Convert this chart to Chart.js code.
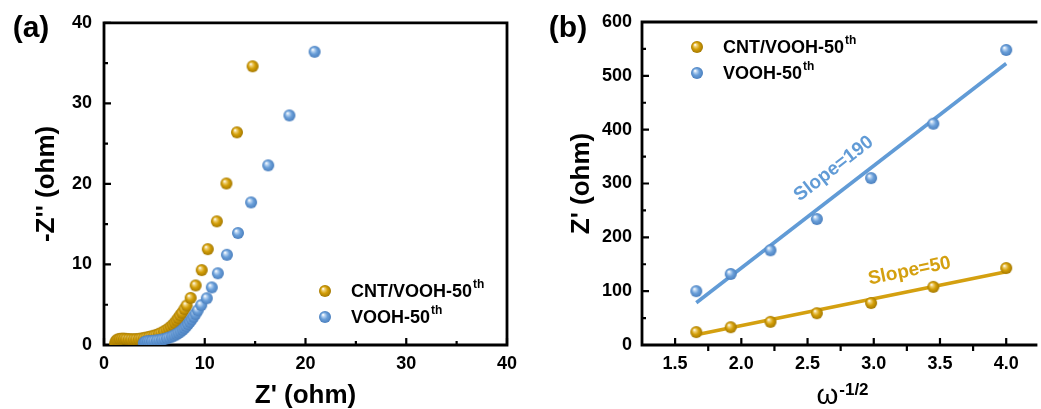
<!DOCTYPE html>
<html>
<head>
<meta charset="utf-8">
<script src="https://cdn.jsdelivr.net/npm/chart.js@4.4.1/dist/chart.umd.min.js"></script>
<style>
  html, body { margin: 0; padding: 0; background: #fff; }
  #wrap { position: relative; width: 1041px; height: 409px; overflow: hidden; }
  .panel { position: absolute; top: 0; }
  #panelA { left: 0; }
  #panelB { left: 540px; }
</style>
</head>
<body>
<div id="wrap">
  <div class="panel" id="panelA"><canvas id="nyquist" width="540" height="409"></canvas></div>
  <div class="panel" id="panelB"><canvas id="warburg" width="501" height="409"></canvas></div>
</div>
<script>
const FONT = '"Liberation Sans", Arial, sans-serif';
const GOLD = '#d49f08';
const BLUE = '#6a9fd9';
const GOLD_LINE = '#d4a010';
const BLUE_LINE = '#619bd6';

const seriesNames = ['CNT/VOOH-50', 'VOOH-50'];

// (a) Nyquist plot, Z' / -Z'' in ohm
const cntRe = [1.10, 1.15, 1.22, 1.32, 1.45, 1.60, 1.78, 1.98, 2.20, 2.45, 2.70, 2.95, 3.20, 3.45, 3.70,
  3.95, 4.20, 4.45, 4.70, 4.95, 5.20, 5.45, 5.70, 5.95, 6.20, 6.42, 6.63, 6.83, 7.02, 7.20, 7.37, 7.55,
  7.75, 7.98, 8.20, 8.60, 9.10, 9.70, 10.30, 11.20, 12.15, 13.20, 14.75];
const cntIm = [0.15, 0.35, 0.52, 0.64, 0.72, 0.76, 0.78, 0.78, 0.76, 0.74, 0.72, 0.72, 0.73, 0.76, 0.80,
  0.86, 0.93, 1.00, 1.07, 1.15, 1.25, 1.38, 1.52, 1.68, 1.86, 2.05, 2.26, 2.50, 2.76, 3.04, 3.34, 3.68,
  4.00, 4.45, 4.90, 5.85, 7.40, 9.30, 11.90, 15.35, 20.05, 26.40, 34.60];
const voohRe = [3.95, 4.00, 4.08, 4.20, 4.36, 4.55, 4.76, 5.00, 5.25, 5.50, 5.75, 6.00, 6.25, 6.50, 6.75,
  6.98, 7.20, 7.40, 7.60, 7.80, 7.98, 8.16, 8.34, 8.52, 8.70, 8.88, 9.08, 9.30, 9.65, 10.20, 10.70,
  11.30, 12.20, 13.30, 14.60, 16.30, 18.40, 20.90];
const voohIm = [0.20, 0.30, 0.38, 0.43, 0.46, 0.48, 0.50, 0.53, 0.57, 0.62, 0.68, 0.75, 0.84, 0.94, 1.06,
  1.19, 1.34, 1.50, 1.68, 1.88, 2.10, 2.34, 2.60, 2.88, 3.18, 3.50, 3.86, 4.30, 4.95, 5.80, 7.15,
  8.90, 11.20, 13.90, 17.70, 22.30, 28.50, 36.40];
const nyqTicks = [0, 10, 20, 30, 40];
const nyqMinor = [5, 15, 25, 35];

// (b) Z' against omega^-1/2
const omegaInv = [1.66, 1.92, 2.22, 2.57, 2.98, 3.45, 4.00];
const cntZ = [24, 33, 43, 59, 78, 108, 143];
const voohZ = [100, 132, 176, 234, 310, 411, 548];
const fitSlope = [50, 190];
const fitIntercept = [-64, -237];
const wXTicks = [1.5, 2.0, 2.5, 3.0, 3.5, 4.0];
const wXMinor = [1.75, 2.25, 2.75, 3.25, 3.75];
const wYTicks = [0, 100, 200, 300, 400, 500, 600];
const wYMinor = [50, 150, 250, 350, 450, 550];

function ball(base, light, dark) {
  const size = 14, r = 6, c = size / 2;
  const cv = document.createElement('canvas');
  cv.width = cv.height = size;
  const g = cv.getContext('2d');
  const grad = g.createRadialGradient(c - 2, c - 2.3, 0.3, c, c, r);
  grad.addColorStop(0, '#ffffff');
  grad.addColorStop(0.2, light);
  grad.addColorStop(0.55, base);
  grad.addColorStop(1, dark);
  g.fillStyle = grad;
  g.beginPath();
  g.arc(c, c, r, 0, Math.PI * 2);
  g.fill();
  return cv;
}
const goldBall = ball(GOLD, '#f0d27a', '#a47800');
const blueBall = ball(BLUE, '#bcd6f2', '#4a7fbe');

const pts = (xs, ys) => xs.map((v, i) => ({ x: v, y: ys[i] }));

function boldFont(size) { return { family: FONT, size: size, weight: 'bold' }; }

function supText(ctx, x, y, base, sup, size, supSize, rise) {
  ctx.textAlign = 'left';
  ctx.textBaseline = 'middle';
  ctx.font = `bold ${size}px ${FONT}`;
  ctx.fillText(base, x, y);
  const w = ctx.measureText(base).width;
  ctx.font = `bold ${supSize}px ${FONT}`;
  ctx.fillText(sup, x + w + 1, y - rise);
}

// axis box and inward/outward tick marks
const framePlugin = {
  id: 'frame',
  beforeDatasetsDraw(chart, args, o) {
    const { ctx, chartArea: a } = chart;
    const x = chart.scales.x, y = chart.scales.y;
    ctx.save();
    ctx.strokeStyle = '#000';
    ctx.lineWidth = 2.8;
    ctx.lineCap = 'square';
    ctx.beginPath();
    ctx.moveTo(a.right, a.top);
    ctx.lineTo(a.left, a.top);
    ctx.lineTo(a.left, a.bottom);
    ctx.lineTo(a.right, a.bottom);
    if (o.closed) ctx.lineTo(a.right, a.top);
    ctx.stroke();
    ctx.lineWidth = 2.2;
    ctx.lineCap = 'butt';
    ctx.beginPath();
    o.xMajor.forEach(v => { const p = x.getPixelForValue(v); ctx.moveTo(p, a.bottom); ctx.lineTo(p, a.bottom - 7); });
    o.xMinor.forEach(v => { const p = x.getPixelForValue(v); ctx.moveTo(p, a.bottom); ctx.lineTo(p, o.minorOut ? a.bottom + 6 : a.bottom - 4); });
    o.yMajor.forEach(v => { const p = y.getPixelForValue(v); ctx.moveTo(a.left, p); ctx.lineTo(a.left + 7, p); });
    o.yMinor.forEach(v => { const p = y.getPixelForValue(v); ctx.moveTo(a.left, p); ctx.lineTo(a.left + 4, p); });
    ctx.stroke();
    ctx.restore();
  }
};

// titles, panel letter and legend
const textPlugin = {
  id: 'texts',
  afterDraw(chart, args, o) {
    const { ctx, chartArea: a } = chart;
    ctx.save();
    ctx.fillStyle = '#000';
    ctx.textAlign = 'center';
    ctx.textBaseline = 'middle';
    ctx.font = `bold 30px ${FONT}`;
    ctx.fillText(o.letter, o.letterX, 29);
    ctx.font = `bold 26px ${FONT}`;
    ctx.save();
    ctx.translate(o.yTitleX, (a.top + a.bottom) / 2);
    ctx.rotate(-Math.PI / 2);
    ctx.fillText(o.yTitle, 0, 0);
    ctx.restore();
    o.drawXTitle(ctx, (a.left + a.right) / 2);
    o.balls.forEach((b, i) => {
      const yy = o.legendY + i * 26;
      ctx.drawImage(b, o.legendX - b.width / 2, yy - b.height / 2);
      ctx.fillStyle = '#000';
      supText(ctx, o.legendX + 26, yy + 1, seriesNames[i], 'th', 18, 12, 7);
    });
    if (o.after) o.after(chart);
    ctx.restore();
  }
};

const tickFont = { color: '#000', font: boldFont(18), autoSkip: false, maxRotation: 0, minRotation: 0 };

new Chart(document.getElementById('nyquist'), {
  type: 'scatter',
  data: {
    datasets: [
      { data: pts(cntRe, cntIm), pointStyle: goldBall, order: 1 },
      { data: pts(voohRe, voohIm), pointStyle: blueBall, order: 0 }
    ]
  },
  options: {
    responsive: false,
    animation: false,
    events: [],
    layout: { padding: { top: 22, right: 33, left: 0, bottom: 0 } },
    plugins: {
      legend: { display: false },
      tooltip: { enabled: false },
      frame: { closed: true, minorOut: false, xMajor: nyqTicks, xMinor: nyqMinor, yMajor: nyqTicks, yMinor: nyqMinor },
      texts: {
        letter: '(a)', letterX: 31, yTitle: "-Z'' (ohm)", yTitleX: 47,
        legendX: 325, legendY: 291, balls: [goldBall, blueBall],
        drawXTitle(ctx, cx) {
          ctx.font = `bold 26px ${FONT}`;
          ctx.textAlign = 'center';
          ctx.fillText("Z' (ohm)", cx, 396);
        }
      }
    },
    scales: {
      x: {
        type: 'linear', min: 0, max: 40,
        afterBuildTicks: s => { s.ticks = nyqTicks.map(v => ({ value: v })); },
        afterFit: s => { s.height = 64; },
        grid: { display: false, drawTicks: false },
        border: { display: false },
        ticks: { ...tickFont, padding: 8 }
      },
      y: {
        type: 'linear', min: 0, max: 40,
        afterBuildTicks: s => { s.ticks = nyqTicks.map(v => ({ value: v })); },
        afterFit: s => { s.width = 104; },
        grid: { display: false, drawTicks: false },
        border: { display: false },
        ticks: { ...tickFont, padding: 12 }
      }
    }
  },
  plugins: [framePlugin, textPlugin]
});

const fitEnds = [omegaInv[0], omegaInv[omegaInv.length - 1]];
const fitLine = k => fitEnds.map(v => ({ x: v, y: fitSlope[k] * v + fitIntercept[k] }));
const slopeLabelAt = [3.30, 2.80];
const slopeLabelGap = [20, 22];
const lineColors = [GOLD_LINE, BLUE_LINE];

new Chart(document.getElementById('warburg'), {
  type: 'scatter',
  data: {
    datasets: [
      { data: pts(omegaInv, cntZ), pointStyle: goldBall, order: 0 },
      { data: pts(omegaInv, voohZ), pointStyle: blueBall, order: 0 },
      { data: fitLine(0), showLine: true, pointRadius: 0, borderColor: GOLD_LINE, borderWidth: 3.6, order: 2 },
      { data: fitLine(1), showLine: true, pointRadius: 0, borderColor: BLUE_LINE, borderWidth: 3.6, order: 2 }
    ]
  },
  options: {
    responsive: false,
    animation: false,
    events: [],
    layout: { padding: { top: 22, right: 0, left: 0, bottom: 0 } },
    plugins: {
      legend: { display: false },
      tooltip: { enabled: false },
      frame: { closed: false, minorOut: true, xMajor: wXTicks, xMinor: wXMinor, yMajor: wYTicks, yMinor: wYMinor },
      texts: {
        letter: '(b)', letterX: 28, yTitle: "Z' (ohm)", yTitleX: 42,
        legendX: 157, legendY: 47, balls: [goldBall, blueBall],
        drawXTitle(ctx, cx) {
          ctx.textAlign = 'left';
          ctx.textBaseline = 'alphabetic';
          ctx.font = `28px ${FONT}`;
          const w = ctx.measureText('ω').width;
          ctx.font = `bold 17px ${FONT}`;
          const ws = ctx.measureText('-1/2').width;
          const x0 = cx - (w + ws) / 2 + 3;
          ctx.font = `28px ${FONT}`;
          ctx.fillText('ω', x0, 404);
          ctx.font = `bold 17px ${FONT}`;
          ctx.fillText('-1/2', x0 + w + 1, 395);
        },
        after(chart) {
          const { ctx } = chart;
          const x = chart.scales.x, y = chart.scales.y;
          [0, 1].forEach(k => {
            const line = fitLine(k);
            const x1 = x.getPixelForValue(line[0].x), y1 = y.getPixelForValue(line[0].y);
            const x2 = x.getPixelForValue(line[1].x), y2 = y.getPixelForValue(line[1].y);
            const ang = Math.atan2(y2 - y1, x2 - x1);
            const v = slopeLabelAt[k];
            ctx.save();
            ctx.translate(x.getPixelForValue(v), y.getPixelForValue(fitSlope[k] * v + fitIntercept[k]));
            ctx.rotate(ang);
            ctx.fillStyle = lineColors[k];
            ctx.font = `bold 19px ${FONT}`;
            ctx.textAlign = 'center';
            ctx.textBaseline = 'middle';
            ctx.fillText('Slope=' + fitSlope[k], 0, -slopeLabelGap[k]);
            ctx.restore();
          });
        }
      }
    },
    scales: {
      x: {
        type: 'linear', min: 1.25, max: 4.225,
        afterBuildTicks: s => { s.ticks = wXTicks.map(v => ({ value: v })); },
        afterFit: s => { s.height = 64; },
        grid: { display: false, drawTicks: false },
        border: { display: false },
        ticks: { ...tickFont, padding: 8, callback: v => Number(v).toFixed(1) }
      },
      y: {
        type: 'linear', min: 0, max: 600,
        afterBuildTicks: s => { s.ticks = wYTicks.map(v => ({ value: v })); },
        afterFit: s => { s.width = 102; },
        grid: { display: false, drawTicks: false },
        border: { display: false },
        ticks: { ...tickFont, padding: 10 }
      }
    }
  },
  plugins: [framePlugin, textPlugin]
});
</script>
</body>
</html>
